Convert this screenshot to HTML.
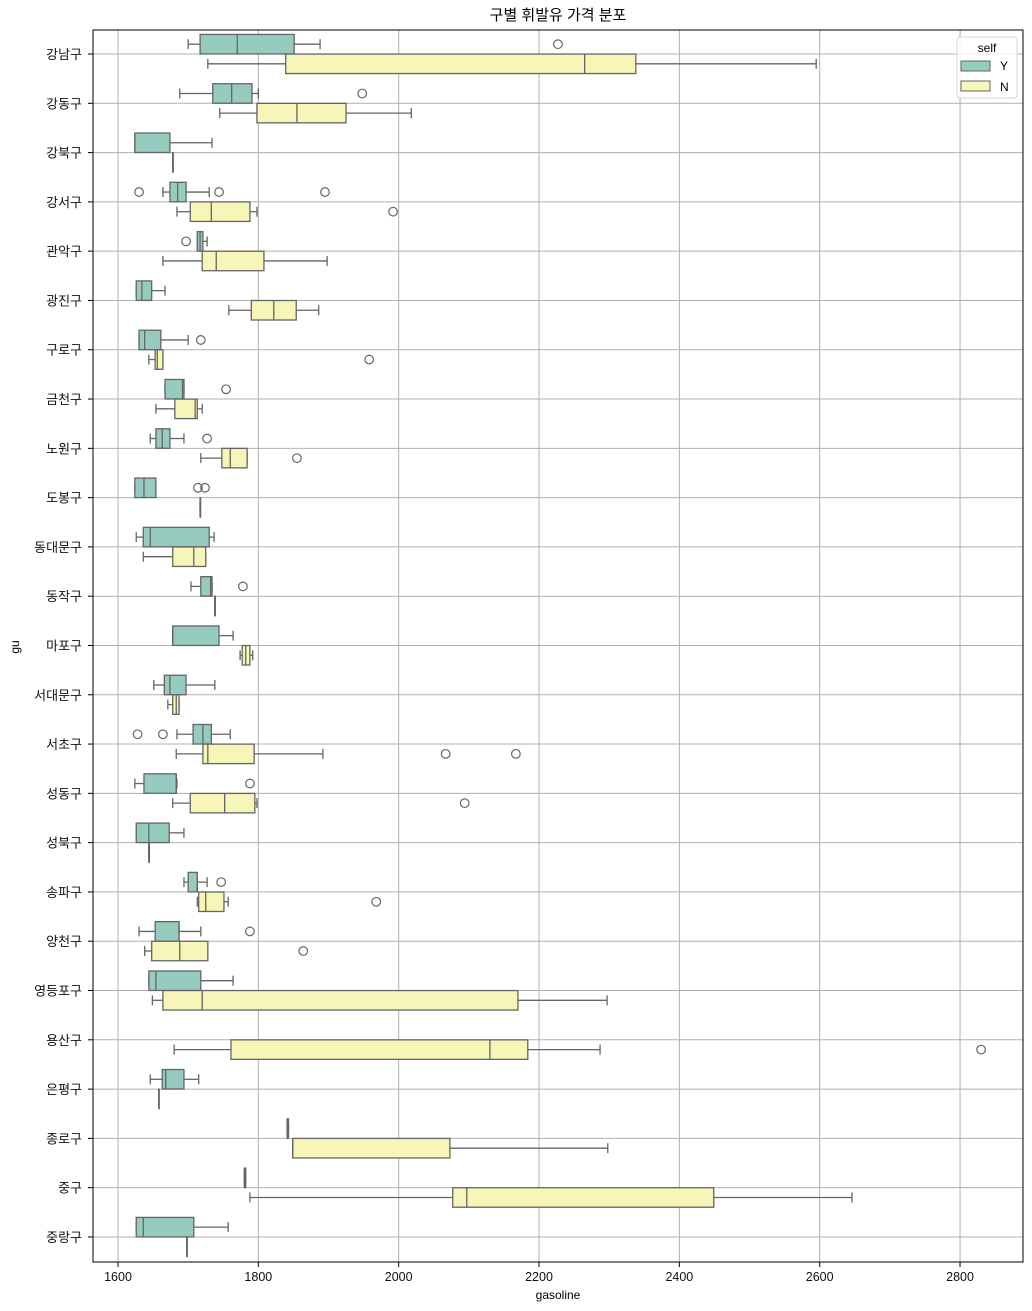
<!DOCTYPE html>
<html><head><meta charset="utf-8"><style>
body{margin:0;background:#fff;}
svg{display:block;font-family:"Liberation Sans","Noto Sans CJK KR",sans-serif;}
</style></head><body>
<svg id="chart" width="1032" height="1311"></svg>
<script>
const categories=["강남구","강동구","강북구","강서구","관악구","광진구","구로구","금천구","노원구","도봉구","동대문구","동작구","마포구","서대문구","서초구","성동구","성북구","송파구","양천구","영등포구","용산구","은평구","종로구","중구","중랑구"];
// [whiskerLow, q1, median, q3, whiskerHigh]
const seriesY=[[1700,1717,1770,1851,1888],[1688,1735,1762,1791,1800],[1624,1624,1624,1674,1734],[1664,1674,1685,1697,1730],[1713,1713,1717,1721,1727],[1626,1626,1634,1648,1667],[1630,1630,1638,1661,1700],[1667,1667,1692,1694,1694],[1646,1654,1663,1674,1694],[1624,1624,1637,1654,1654],[1626,1636,1646,1730,1737],[1704,1718,1732,1734,1734],[1678,1678,1678,1744,1764],[1651,1666,1674,1697,1738],[1684,1707,1721,1733,1760],[1624,1637,1683,1683,1684],[1626,1626,1644,1673,1694],[1694,1700,1713,1713,1727],[1630,1653,1687,1687,1718],[1644,1644,1654,1718,1764],null,[1646,1663,1668,1694,1715],[1841,1841,1842,1843,1843],[1780,1780,1781,1782,1782],[1626,1626,1636,1708,1757]];
const seriesN=[[1728,1839,2265,2338,2595],[1745,1798,1855,1925,2018],[1678,1678,1678,1678,1678],[1684,1703,1733,1788,1798],[1664,1720,1740,1808,1898],[1758,1790,1822,1854,1886],[1644,1653,1656,1664,1664],[1654,1681,1710,1713,1720],[1718,1748,1760,1784,1784],[1717,1717,1717,1717,1717],[1636,1678,1708,1725,1725],[1738,1738,1738,1738,1738],[1774,1777,1782,1788,1792],[1671,1678,1683,1687,1687],[1683,1721,1728,1794,1892],[1678,1703,1752,1795,1798],[1644,1644,1644,1644,1644],[1713,1715,1725,1751,1757],[1638,1648,1688,1728,1728],[1649,1664,1720,2170,2297],[1680,1761,2130,2184,2287],[1658,1658,1658,1658,1658],[1849,1849,1849,2073,2298],[1788,2077,2097,2449,2646],[1698,1698,1698,1698,1698]];
const outliersY=[[2227],[1948],[],[1630,1744,1895],[1697],[],[1718],[1754],[1727],[1714,1724],[],[1778],[],[],[1628,1664],[1788],[],[1747],[1788],[],[],[],[],[],[]];
const outliersN=[[],[],[],[1992],[],[],[1958],[],[1855],[],[],[],[],[],[2067,2167],[2094],[],[1968],[1864],[],[2830],[],[],[],[]];
const xTicks=[1600,1800,2000,2200,2400,2600,2800];

const NS="http://www.w3.org/2000/svg";
const svg=document.getElementById('chart');
const L=93,R=1023,T=30,B=1262;
const xs=v=>118+(v-1600)*0.7017;
const ys=i=>54+i*49.29;
function mk(tag,attrs,parent){const e=document.createElementNS(NS,tag);for(const k in attrs)e.setAttribute(k,attrs[k]);(parent||svg).appendChild(e);return e;}

xTicks.forEach(t=>{const g=mk('line',{x1:xs(t),x2:xs(t),y1:T,y2:B,stroke:'#b0b0b0','stroke-width':1});

});
categories.forEach((c,i)=>{const g=mk('line',{x1:L,x2:R,y1:ys(i),y2:ys(i),stroke:'#b0b0b0','stroke-width':1});

});

function drawBox(s,cy,fill,name){
  if(!s)return;
  const grp=mk('g',{});
  
  
  const h=19.5,col='#656565';
  const y0=cy-h/2,y1=cy+h/2;
  mk('line',{x1:xs(s[0]),x2:xs(s[1]),y1:cy,y2:cy,stroke:col,'stroke-width':1.3},grp);
  mk('line',{x1:xs(s[3]),x2:xs(s[4]),y1:cy,y2:cy,stroke:col,'stroke-width':1.3},grp);
  mk('line',{x1:xs(s[0]),x2:xs(s[0]),y1:cy-5,y2:cy+5,stroke:col,'stroke-width':1.3},grp);
  mk('line',{x1:xs(s[4]),x2:xs(s[4]),y1:cy-5,y2:cy+5,stroke:col,'stroke-width':1.3},grp);
  mk('rect',{x:xs(s[1]),y:y0,width:Math.max(xs(s[3])-xs(s[1]),0.5),height:h,fill:fill,stroke:col,'stroke-width':1.3},grp);
  mk('line',{x1:xs(s[2]),x2:xs(s[2]),y1:y0,y2:y1,stroke:col,'stroke-width':1.3},grp);
}
function drawOut(arr,cy){arr.forEach(v=>{const c=mk('circle',{cx:xs(v),cy:cy,r:4.3,fill:'none',stroke:'#656565','stroke-width':1.2});

});}

categories.forEach((c,i)=>{
  drawBox(seriesY[i],ys(i)-9.8,'#96cbbf','box-self-y');
  drawBox(seriesN[i],ys(i)+9.8,'#f5f6b8','box-self-n');
  drawOut(outliersY[i],ys(i)-9.8);
  drawOut(outliersN[i],ys(i)+9.8);
  const t=mk('text',{x:82,y:ys(i)+5,'text-anchor':'end','font-size':13,fill:'#111'});t.textContent=c;
  
  
  mk('line',{x1:L-5,x2:L,y1:ys(i),y2:ys(i),stroke:'#000','stroke-width':1});
});
xTicks.forEach(t=>{mk('line',{x1:xs(t),x2:xs(t),y1:B,y2:B+5,stroke:'#000','stroke-width':1});
const l=mk('text',{x:xs(t),y:B+19,'text-anchor':'middle','font-size':12.5,fill:'#111'});l.textContent=t;

});
const fr=mk('rect',{x:L,y:T,width:R-L,height:B-T,fill:'none',stroke:'#000','stroke-width':1});


</script>
<svg style="position:absolute;left:0;top:0" width="1032" height="1311">
<text x="558" y="20" text-anchor="middle" font-size="15" fill="#000" font-family="Liberation Sans, Noto Sans CJK KR, sans-serif">구별 휘발유 가격 분포</text>
<text x="558" y="1299" text-anchor="middle" font-size="12" fill="#000" font-family="Liberation Sans, sans-serif">gasoline</text>
<text transform="translate(19,647) rotate(-90)" text-anchor="middle" font-size="12" fill="#000" font-family="Liberation Sans, sans-serif">gu</text>
<g>
<rect x="957" y="37" width="60" height="61" rx="3" fill="#fff" fill-opacity="0.85" stroke="#d6d6d6"/>
<text x="987" y="52" text-anchor="middle" font-size="12" font-family="Liberation Sans, sans-serif">self</text>
<g><rect x="961" y="61" width="29" height="10" fill="#96cbbf" stroke="#656565"/><text x="1000" y="70" font-size="12" font-family="Liberation Sans, sans-serif">Y</text></g>
<g><rect x="961" y="81" width="29" height="10" fill="#f5f6b8" stroke="#656565"/><text x="1000" y="91" font-size="12" font-family="Liberation Sans, sans-serif">N</text></g>
</g>
</svg>
</body></html>
